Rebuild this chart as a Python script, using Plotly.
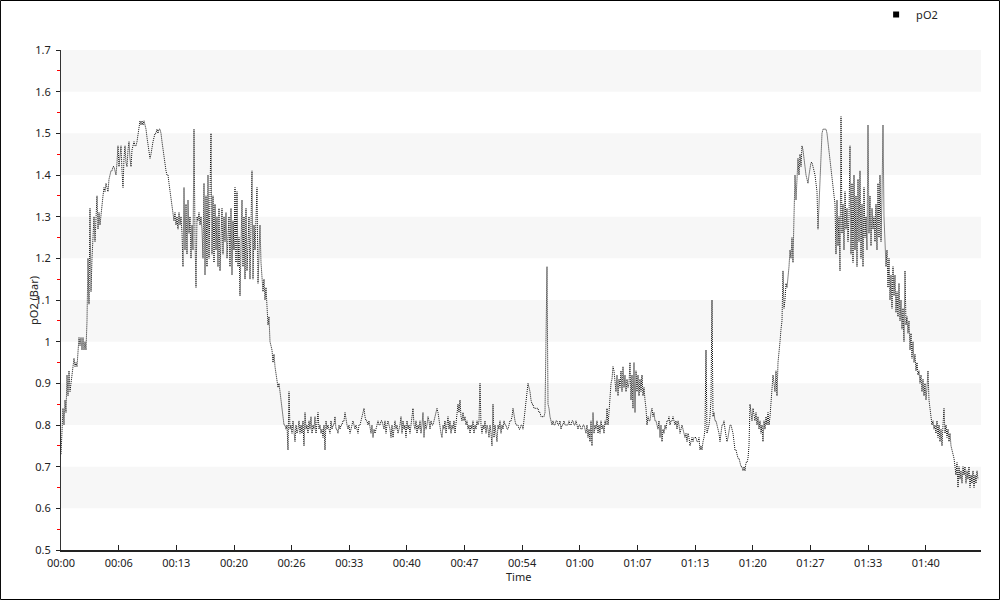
import plotly.graph_objects as go

# pO2 samples (bar), one every SAMPLE_S seconds from the start of the dive
SAMPLE_S = 7
po2 = [
    0.73, 0.78, 0.84, 0.80, 0.86, 0.83, 0.92, 0.87, 0.93, 0.88,
    0.90, 0.92, 0.95, 0.96, 0.94, 0.95, 0.94, 0.97, 1.01, 0.99,
    1.01, 0.98, 1.01, 0.98, 1.00, 0.98, 1.05, 1.20, 1.09, 1.32,
    1.12, 1.20, 1.25, 1.30, 1.24, 1.29, 1.35, 1.27, 1.31, 1.28,
    1.31, 1.34, 1.35, 1.37, 1.36, 1.38, 1.37, 1.36, 1.39, 1.40,
    1.41, 1.41, 1.42, 1.42, 1.41, 1.40, 1.43, 1.47, 1.42, 1.45,
    1.47, 1.41, 1.37, 1.44, 1.47, 1.43, 1.42, 1.46, 1.48, 1.44,
    1.42, 1.46, 1.47, 1.48, 1.47, 1.47, 1.48, 1.50, 1.52, 1.53,
    1.52, 1.53, 1.52, 1.53, 1.52, 1.51, 1.49, 1.47, 1.46, 1.44,
    1.45, 1.47, 1.48, 1.49, 1.50, 1.50, 1.51, 1.50, 1.51, 1.51,
    1.50, 1.48, 1.46, 1.44, 1.42, 1.41, 1.40, 1.40, 1.38, 1.36,
    1.34, 1.32, 1.31, 1.29, 1.31, 1.28, 1.30, 1.27, 1.31, 1.28,
    1.30, 1.26, 1.18, 1.37, 1.22, 1.33, 1.21, 1.34, 1.26, 1.30,
    1.20, 1.28, 1.22, 1.51, 1.25, 1.13, 1.30, 1.29, 1.31, 1.28,
    1.30, 1.27, 1.20, 1.38, 1.16, 1.35, 1.18, 1.40, 1.20, 1.44,
    1.50, 1.21, 1.35, 1.19, 1.33, 1.22, 1.30, 1.18, 1.32, 1.17,
    1.28, 1.32, 1.21, 1.30, 1.24, 1.31, 1.20, 1.28, 1.30, 1.18,
    1.32, 1.16, 1.29, 1.22, 1.37, 1.19, 1.36, 1.18, 1.25, 1.11,
    1.28, 1.34, 1.18, 1.30, 1.15, 1.32, 1.17, 1.27, 1.30, 1.15,
    1.25, 1.41, 1.15, 1.28, 1.22, 1.33, 1.37, 1.14, 1.25, 1.28,
    1.19, 1.15, 1.12, 1.15, 1.10, 1.13, 1.06, 1.04, 1.06, 1.00,
    0.99, 0.98, 0.95, 0.97, 0.94, 0.92, 0.90, 0.89, 0.90, 0.88,
    0.86, 0.84, 0.81, 0.80, 0.80, 0.79, 0.80, 0.74, 0.88, 0.79,
    0.80, 0.78, 0.81, 0.79, 0.76, 0.80, 0.78, 0.79, 0.81, 0.78,
    0.80, 0.78, 0.81, 0.75, 0.83, 0.79, 0.80, 0.78, 0.81, 0.79,
    0.82, 0.78, 0.80, 0.79, 0.82, 0.78, 0.80, 0.83, 0.79, 0.80,
    0.78, 0.79, 0.77, 0.80, 0.74, 0.81, 0.79, 0.80, 0.79, 0.78,
    0.81, 0.79, 0.80, 0.80, 0.82, 0.79, 0.79, 0.78, 0.80, 0.79,
    0.80, 0.80, 0.81, 0.81, 0.83, 0.81, 0.80, 0.79, 0.80, 0.78,
    0.79, 0.80, 0.81, 0.80, 0.79, 0.80, 0.79, 0.78, 0.80, 0.80,
    0.81, 0.82, 0.83, 0.84, 0.82, 0.81, 0.81, 0.80, 0.81, 0.79,
    0.78, 0.80, 0.77, 0.79, 0.78, 0.79, 0.80, 0.81, 0.80, 0.80,
    0.81, 0.81, 0.80, 0.79, 0.81, 0.78, 0.80, 0.81, 0.80, 0.79,
    0.77, 0.80, 0.77, 0.79, 0.81, 0.79, 0.80, 0.78, 0.79, 0.80,
    0.82, 0.78, 0.81, 0.79, 0.80, 0.77, 0.81, 0.79, 0.80, 0.78,
    0.80, 0.82, 0.84, 0.80, 0.79, 0.81, 0.78, 0.80, 0.79, 0.81,
    0.78, 0.80, 0.83, 0.77, 0.81, 0.79, 0.80, 0.82, 0.81, 0.79,
    0.81, 0.80, 0.80, 0.81, 0.82, 0.83, 0.84, 0.83, 0.81, 0.80,
    0.78, 0.77, 0.80, 0.79, 0.81, 0.78, 0.80, 0.82, 0.79, 0.81,
    0.78, 0.80, 0.79, 0.81, 0.78, 0.80, 0.82, 0.85, 0.83, 0.86,
    0.82, 0.81, 0.83, 0.81, 0.82, 0.80, 0.81, 0.79, 0.80, 0.78,
    0.80, 0.79, 0.81, 0.78, 0.80, 0.79, 0.81, 0.80, 0.81, 0.90,
    0.80, 0.78, 0.80, 0.79, 0.81, 0.78, 0.80, 0.79, 0.77, 0.80,
    0.78, 0.75, 0.85, 0.77, 0.80, 0.78, 0.76, 0.80, 0.79, 0.81,
    0.78, 0.80, 0.79, 0.81, 0.80, 0.80, 0.79, 0.79, 0.80, 0.81,
    0.81, 0.82, 0.84, 0.82, 0.81, 0.80, 0.80, 0.80, 0.79, 0.79,
    0.80, 0.80, 0.79, 0.81, 0.83, 0.86, 0.88, 0.90, 0.89, 0.88,
    0.86, 0.85, 0.85, 0.84, 0.84, 0.84, 0.84, 0.84, 0.83, 0.83,
    0.82, 0.82, 0.82, 0.82, 0.83, 1.00, 1.18, 0.85, 0.84, 0.82,
    0.81, 0.80, 0.81, 0.80, 0.80, 0.81, 0.81, 0.80, 0.80, 0.81,
    0.79, 0.80, 0.80, 0.81, 0.80, 0.80, 0.80, 0.80, 0.81, 0.80,
    0.80, 0.81, 0.81, 0.80, 0.80, 0.81, 0.80, 0.79, 0.80, 0.80,
    0.79, 0.79, 0.80, 0.80, 0.79, 0.78, 0.80, 0.77, 0.79, 0.76,
    0.81, 0.75, 0.83, 0.78, 0.80, 0.79, 0.81, 0.78, 0.80, 0.78,
    0.81, 0.79, 0.80, 0.78, 0.81, 0.80, 0.84, 0.80, 0.83, 0.88,
    0.90, 0.91, 0.94, 0.93, 0.91, 0.88, 0.92, 0.87, 0.91, 0.89,
    0.93, 0.88, 0.94, 0.89, 0.92, 0.88, 0.91, 0.89, 0.90, 0.95,
    0.86, 0.92, 0.84, 0.95, 0.83, 0.93, 0.88, 0.92, 0.87, 0.91,
    0.88, 0.92, 0.87, 0.89, 0.86, 0.84, 0.80, 0.82, 0.81, 0.81,
    0.83, 0.84, 0.82, 0.83, 0.81, 0.81, 0.80, 0.79, 0.81, 0.77,
    0.80, 0.76, 0.79, 0.78, 0.80, 0.79, 0.81, 0.81, 0.82, 0.80,
    0.81, 0.81, 0.82, 0.81, 0.80, 0.81, 0.79, 0.81, 0.80, 0.78,
    0.79, 0.80, 0.79, 0.78, 0.77, 0.78, 0.76, 0.78, 0.77, 0.75,
    0.76, 0.77, 0.76, 0.77, 0.77, 0.77, 0.76, 0.76, 0.77, 0.74,
    0.75, 0.74, 0.76, 0.77, 0.79, 0.98, 0.78, 0.79, 0.80, 0.82,
    0.86, 1.10, 0.82, 0.83, 0.81, 0.81, 0.80, 0.79, 0.78, 0.76,
    0.78, 0.80, 0.80, 0.81, 0.79, 0.77, 0.76, 0.77, 0.79, 0.80,
    0.80, 0.79, 0.78, 0.76, 0.74, 0.74, 0.73, 0.72, 0.72, 0.71,
    0.70, 0.70, 0.69, 0.70, 0.69, 0.71, 0.71, 0.72, 0.75, 0.85,
    0.83, 0.81, 0.84, 0.82, 0.81, 0.83, 0.80, 0.82, 0.79, 0.81,
    0.78, 0.80, 0.76, 0.81, 0.79, 0.82, 0.80, 0.83, 0.80, 0.82,
    0.85, 0.89, 0.92, 0.90, 0.88, 0.93, 0.87, 0.95, 0.97, 1.00,
    1.03, 1.05, 1.17, 1.08, 1.10, 1.14, 1.13, 1.15, 1.18, 1.22,
    1.20, 1.25, 1.19, 1.30, 1.40, 1.34, 1.42, 1.44, 1.40, 1.45,
    1.42, 1.47, 1.46, 1.43, 1.42, 1.40, 1.39, 1.38, 1.40, 1.42,
    1.43, 1.43, 1.42, 1.41, 1.40, 1.38, 1.36, 1.27, 1.33, 1.42,
    1.47, 1.50, 1.51, 1.51, 1.51, 1.51, 1.50, 1.48, 1.46, 1.44,
    1.42, 1.40, 1.37, 1.35, 1.33, 1.21, 1.34, 1.23, 1.30, 1.17,
    1.54, 1.26, 1.33, 1.22, 1.36, 1.27, 1.32, 1.24, 1.30, 1.47,
    1.21, 1.38, 1.19, 1.40, 1.22, 1.35, 1.18, 1.39, 1.24, 1.41,
    1.20, 1.33, 1.18, 1.37, 1.25, 1.30, 1.22, 1.52, 1.26, 1.35,
    1.23, 1.32, 1.27, 1.30, 1.24, 1.33, 1.22, 1.38, 1.25, 1.40,
    1.24, 1.35, 1.52, 1.30, 1.24, 1.18, 1.22, 1.13, 1.20, 1.10,
    1.16, 1.08, 1.18, 1.11, 1.16, 1.07, 1.12, 1.06, 1.14, 1.05,
    1.10, 1.03, 1.08, 1.00, 1.17, 1.04, 1.06, 1.02, 1.05, 0.98,
    1.02, 0.96, 1.00, 0.95, 0.97, 0.93, 0.95, 0.92, 0.93, 0.90,
    0.92, 0.88, 0.91, 0.87, 0.90, 0.86, 0.89, 0.93, 0.86, 0.84,
    0.82, 0.80, 0.81, 0.79, 0.80, 0.78, 0.81, 0.77, 0.80, 0.76,
    0.79, 0.75, 0.80, 0.84, 0.78, 0.80, 0.77, 0.79, 0.76, 0.78,
    0.75, 0.74, 0.73, 0.72, 0.70, 0.68, 0.71, 0.65, 0.70, 0.67,
    0.69, 0.66, 0.70, 0.68, 0.70, 0.66, 0.69, 0.67, 0.70, 0.65,
    0.68, 0.66, 0.69, 0.65, 0.68, 0.66, 0.69, 0.67,
]
time_s = [i * SAMPLE_S for i in range(len(po2))]

# x-axis tick positions (seconds) and labels
x_tick_s = [0, 404, 807, 1211, 1614, 2018, 2421, 2825, 3228, 3632,
            4036, 4439, 4843, 5246, 5650, 6053]
x_tick_labels = ["00:00", "00:06", "00:13", "00:20", "00:26", "00:33", "00:40",
                 "00:47", "00:54", "01:00", "01:07", "01:13", "01:20", "01:27",
                 "01:33", "01:40"]
x_range_s = [0, 6440]

y_ticks = [0.5, 0.6, 0.7, 0.8, 0.9, 1.0, 1.1, 1.2, 1.3, 1.4, 1.5, 1.6, 1.7]
y_tick_labels = ["0.5", "0.6", "0.7", "0.8", "0.9", "1", "1.1", "1.2", "1.3",
                 "1.4", "1.5", "1.6", "1.7"]
y_minor_ticks = [0.55, 0.65, 0.75, 0.85, 0.95, 1.05, 1.15, 1.25, 1.35, 1.45,
                 1.55, 1.65]
band_lows = [0.6, 0.8, 1.0, 1.2, 1.4, 1.6]

FONT = "Noto Sans"

fig = go.Figure()
fig.add_trace(go.Scatter(
    x=time_s, y=po2, mode="lines", name="pO2", showlegend=False,
    line=dict(color="#111111", width=1, dash="1px,1px"),
))
fig.add_trace(go.Scatter(
    x=[None], y=[None], mode="markers", name="pO2", showlegend=True,
    marker=dict(symbol="square", size=6, color="black"),
))

shapes = []
for lo in band_lows:
    shapes.append(dict(type="rect", xref="paper", yref="y", x0=0, x1=1,
                       y0=lo, y1=lo + 0.1, fillcolor="#f7f7f7",
                       line=dict(width=0), layer="below"))
# outer frame
shapes.append(dict(type="rect", xref="paper", yref="paper",
                   x0=-0.0658, x1=1.0201, y0=-0.099, y1=1.099,
                   line=dict(color="black", width=1), layer="above"))

annotations = [
    dict(text="Time", xref="paper", yref="paper", x=0.497, y=-0.052,
         xanchor="center", yanchor="middle", showarrow=False,
         font=dict(size=11)),
    dict(text="pO2 (Bar)", xref="paper", yref="paper", x=-0.0305, y=0.5,
         xanchor="center", yanchor="middle", textangle=-90, showarrow=False,
         font=dict(size=11)),
]

fig.update_layout(
    width=1000, height=600,
    margin=dict(l=61, r=19, t=50, b=50, autoexpand=False),
    paper_bgcolor="white", plot_bgcolor="white",
    font=dict(family=FONT, size=11, color="#222"),
    shapes=shapes,
    annotations=annotations,
    showlegend=True,
    legend=dict(x=0.886, y=1.1, xanchor="left", yanchor="top",
                bgcolor="rgba(0,0,0,0)", font=dict(size=11),
                itemwidth=30),
    xaxis=dict(
        range=x_range_s, tickmode="array", tickvals=x_tick_s,
        ticktext=x_tick_labels, showgrid=False, zeroline=False,
        showline=True, linecolor="#222", linewidth=2,
        ticks="inside", ticklen=5, tickcolor="#222",
        tickfont=dict(size=11), automargin=False, ticklabelstandoff=2,
    ),
    yaxis=dict(
        range=[0.5, 1.7], tickmode="array", tickvals=y_ticks,
        ticktext=y_tick_labels, showgrid=False, zeroline=False,
        showline=True, linecolor="#333", linewidth=1,
        ticks="outside", ticklen=4, tickcolor="#222",
        minor=dict(tickmode="array", tickvals=y_minor_ticks, ticks="outside",
                   ticklen=3, tickcolor="red"),
        tickfont=dict(size=11), automargin=False, ticklabelstandoff=3,
    ),
)

post = ("document.body.style.margin='0';document.body.style.padding='0';"
        "document.body.style.overflow='hidden';"
        "var d=document.getElementById('{plot_id}');"
        "d.style.position='absolute';d.style.left='0px';d.style.top='0px';")
fig.write_html("out.html", post_script=post,
               config={"displayModeBar": False, "staticPlot": True})
